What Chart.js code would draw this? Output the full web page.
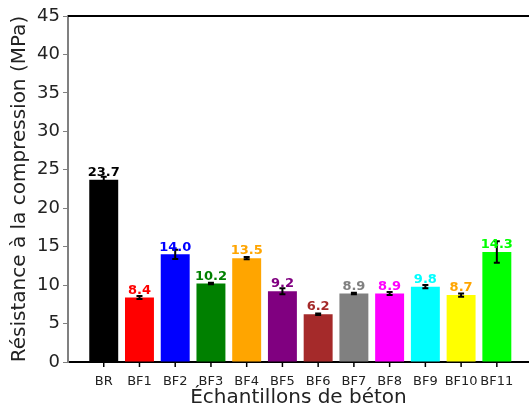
<!DOCTYPE html>
<html>
<head>
<meta charset="utf-8">
<script src="https://cdn.jsdelivr.net/npm/chart.js@4.4.1/dist/chart.umd.min.js"></script>
<style>
    html, body { margin: 0; padding: 0; background: #fff; }
    #wrap { width: 529px; height: 410px; }
</style>
</head>
<body>
<div id="wrap"><canvas id="chart"></canvas></div>
<script>
// Données
const categories = ['BR', 'BF1', 'BF2', 'BF3', 'BF4', 'BF5', 'BF6', 'BF7', 'BF8', 'BF9', 'BF10', 'BF11'];
const strength = [23.7, 8.4, 14.0, 10.2, 13.5, 9.2, 6.2, 8.9, 8.9, 9.8, 8.7, 14.3];
const errors = [0.4, 0.2, 0.6, 0.1, 0.15, 0.4, 0.1, 0.1, 0.2, 0.2, 0.2, 1.4];
const barColors = ['#000000', '#ff0000', '#0000ff', '#008000', '#ffa500', '#800080', '#a52a2a', '#808080', '#ff00ff', '#00ffff', '#ffff00', '#00ff00'];
const labelColors = ['#000000', '#ff0000', '#0000ff', '#008000', '#ffa500', '#800080', '#a52a2a', '#808080', '#ff00ff', '#00ffff', '#ffa500', '#00ff00'];

const FONT = '"DejaVu Sans", sans-serif';

// Barres d'erreur, valeurs au-dessus des barres, graduations de l'axe x
const barExtras = {
    id: 'barExtras',
    afterDatasetsDraw(chart) {
        const ctx = chart.ctx;
        const x = chart.scales.x;
        const y = chart.scales.y;
        const area = chart.chartArea;
        ctx.save();
        strength.forEach((v, i) => {
            const px = x.getPixelForValue(i);
            const top = y.getPixelForValue(v + errors[i]);
            const bot = y.getPixelForValue(v - errors[i]);
            ctx.strokeStyle = '#000';
            ctx.lineWidth = 2;
            ctx.beginPath();
            ctx.moveTo(px, top);
            ctx.lineTo(px, bot);
            ctx.moveTo(px - 3, top);
            ctx.lineTo(px + 3, top);
            ctx.moveTo(px - 3, bot);
            ctx.lineTo(px + 3, bot);
            ctx.stroke();

            // graduation
            ctx.lineWidth = 1.5;
            ctx.beginPath();
            ctx.moveTo(px, area.bottom);
            ctx.lineTo(px, area.bottom + 5);
            ctx.stroke();

            ctx.fillStyle = labelColors[i];
            ctx.font = 'bold 13px ' + FONT;
            ctx.textAlign = 'center';
            ctx.textBaseline = 'alphabetic';
            ctx.fillText(v.toFixed(1), px, y.getPixelForValue(v + 0.5));
        });
        // cadre du haut
        ctx.strokeStyle = '#000';
        ctx.lineWidth = 2;
        ctx.beginPath();
        ctx.moveTo(area.left, area.top);
        ctx.lineTo(area.right, area.top);
        ctx.stroke();
        ctx.restore();
    }
};

new Chart(document.getElementById('chart'), {
    type: 'bar',
    data: {
        datasets: [{
            data: strength.map((v, i) => ({ x: i, y: v })),
            backgroundColor: barColors,
            borderWidth: 0,
            barPercentage: 0.81,
            categoryPercentage: 1.0
        }]
    },
    options: {
        responsive: true,
        maintainAspectRatio: false,
        animation: false,
        layout: { padding: { top: 16, right: 0, left: 0, bottom: 0 } },
        plugins: {
            legend: { display: false },
            tooltip: { enabled: false }
        },
        scales: {
            x: {
                type: 'linear',
                min: -1,
                max: 11.9,
                offset: false,
                afterBuildTicks(scale) {
                    scale.ticks = categories.map((c, i) => ({ value: i }));
                },
                afterFit(scale) { scale.height = 48; },
                ticks: {
                    autoSkip: false,
                    maxRotation: 0,
                    padding: 4,
                    color: '#222',
                    font: { family: FONT, size: 13 },
                    callback: (v) => categories[v] ?? ''
                },
                grid: { display: false },
                border: { display: true, color: '#000', width: 2 },
                title: {
                    display: true,
                    text: 'Échantillons de béton',
                    color: '#222',
                    font: { family: FONT, size: 20 },
                    padding: { top: 0, bottom: 0 }
                }
            },
            y: {
                min: 0,
                max: 45,
                afterFit(scale) { scale.width = 68; },
                ticks: {
                    stepSize: 5,
                    padding: 3,
                    color: '#222',
                    font: { family: FONT, size: 18 }
                },
                grid: {
                    display: true,
                    drawOnChartArea: false,
                    drawTicks: true,
                    tickLength: 5,
                    tickColor: '#808080'
                },
                border: { display: true, color: '#808080', width: 2 },
                title: {
                    display: true,
                    text: 'Résistance à la compression (MPa)',
                    color: '#222',
                    font: { family: FONT, size: 20 },
                    padding: { top: 8, bottom: 0 }
                }
            }
        }
    },
    plugins: [barExtras]
});
</script>
</body>
</html>
